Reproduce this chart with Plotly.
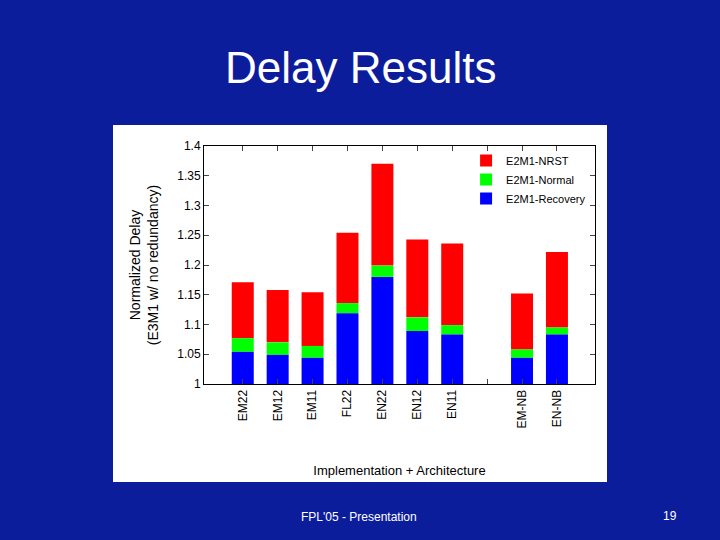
import plotly.graph_objects as go

categories = ["EM22", "EM12", "EM11", "FL22", "EN22", "EN12", "EN11", "", "EM-NB", "EN-NB"]
recovery = [1.054, 1.049, 1.044, 1.119, 1.180, 1.089, 1.083, None, 1.044, 1.083]
normal = [1.077, 1.070, 1.064, 1.136, 1.199, 1.112, 1.099, None, 1.058, 1.095]
nrst = [1.171, 1.158, 1.154, 1.254, 1.370, 1.243, 1.236, None, 1.152, 1.222]
yticks = [1, 1.05, 1.1, 1.15, 1.2, 1.25, 1.3, 1.35, 1.4]

x = list(range(len(categories)))
def diff(top, bottom):
    return [None if t is None else t - b for t, b in zip(top, bottom)]

ones = [1] * len(categories)
fig = go.Figure()
fig.add_trace(go.Bar(x=x, y=diff(nrst, normal), base=normal, name="E2M1-NRST",
                     marker_color="#ff0000", width=0.63, marker_line_width=0))
fig.add_trace(go.Bar(x=x, y=diff(normal, recovery), base=recovery, name="E2M1-Normal",
                     marker_color="#00ff00", width=0.63, marker_line_width=0))
fig.add_trace(go.Bar(x=x, y=diff(recovery, ones), base=ones, name="E2M1-Recovery",
                     marker_color="#0000ff", width=0.63, marker_line_width=0))

axis_font = dict(family="Liberation Sans, Arial", size=12, color="black")
fig.update_layout(
    width=720, height=540, barmode="overlay",
    paper_bgcolor="#0c1d9c", plot_bgcolor="white",
    margin=dict(l=204, r=125, t=146, b=156),
    showlegend=True,
    legend=dict(x=0.99, y=1.0, xanchor="right", yanchor="top", bgcolor="rgba(0,0,0,0)",
                font=dict(family="Liberation Sans, Arial", size=11, color="black"),
                traceorder="normal", tracegroupgap=0, itemsizing="constant"),
    shapes=[dict(type="rect", xref="paper", yref="paper", layer="below",
                 x0=-91 / 391, x1=12 / 391 + 1, y0=-98 / 238, y1=1 + 21 / 238,
                 fillcolor="white", line_width=0)],
    annotations=[
        dict(text="Delay Results", xref="paper", yref="paper", x=(360 - 204) / 391, y=1 + 79 / 238,
             xanchor="center", yanchor="middle", showarrow=False,
             font=dict(family="Liberation Sans, Arial", size=44, color="white")),
        dict(text="FPL'05 - Presentation", xref="paper", yref="paper", x=(359 - 204) / 391,
             y=-(517 - 384) / 238, xanchor="center", yanchor="middle", showarrow=False,
             font=dict(family="Liberation Sans, Arial", size=12, color="white")),
        dict(text="19", xref="paper", yref="paper", x=(670 - 204) / 391,
             y=-(516 - 384) / 238, xanchor="center", yanchor="middle", showarrow=False,
             font=dict(family="Liberation Sans, Arial", size=12, color="white")),
    ],
)
fig.update_xaxes(range=[-1.11, 10.09], tickvals=x, ticktext=categories, tickangle=-90,
                 ticks="inside", ticklen=5, mirror="ticks", showline=True, linecolor="black",
                 showgrid=False, tickfont=axis_font,
                 title=dict(text="Implementation + Architecture", standoff=38,
                            font=dict(family="Liberation Sans, Arial", size=13, color="black")))
fig.update_yaxes(range=[1, 1.4], tickvals=yticks, ticktext=[str(t) for t in yticks],
                 ticks="inside", ticklen=5, mirror="ticks", showline=True, linecolor="black",
                 showgrid=False, tickfont=axis_font,
                 title=dict(text="Normalized Delay<br>(E3M1 w/ no redundancy)",
                            font=dict(family="Liberation Sans, Arial", size=14, color="black")))
fig.write_html("out.html", config={"displayModeBar": False},
               post_script="document.body.style.margin='0';")
